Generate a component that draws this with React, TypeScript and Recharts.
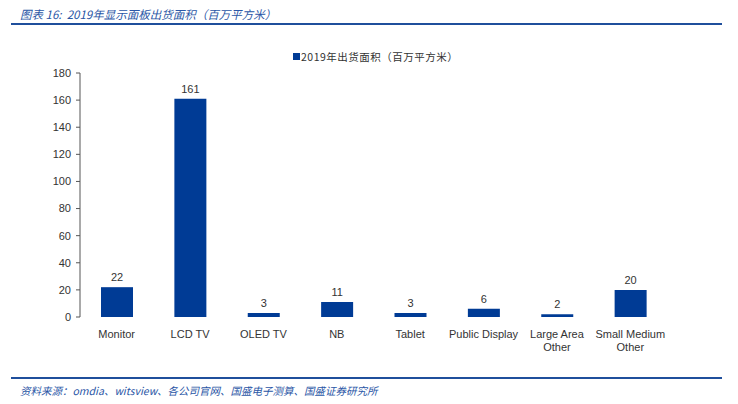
import React from 'react';
import { BarChart, Bar, XAxis, YAxis, LabelList } from 'recharts';

const categories = ['Monitor', 'LCD TV', 'OLED TV', 'NB', 'Tablet', 'Public Display', 'Large Area\nOther', 'Small Medium\nOther'];
const shipmentArea = [22, 161, 3, 11, 3, 6, 2, 20];
const yTicks = [0, 20, 40, 60, 80, 100, 120, 140, 160, 180];
const boundaryTicks = [0, 1, 2, 3, 4, 5, 6, 7, 8];
const seriesName = '2019年出货面积（百万平方米）';
const titleText = '图表 16:  2019年显示面板出货面积（百万平方米）';
const sourceText = '资料来源：omdia、witsview、各公司官网、国盛电子测算、国盛证券研究所';

const data = categories.map((c, i) => ({ name: c, idx: i + 0.5, value: shipmentArea[i] }));

const BLUE = '#003b95';
const TEXT = '#333333';
const FONT = 'Tahoma, "Liberation Sans", Arial, sans-serif';

const CategoryTick = (props: any) => {
  const { x, y, payload } = props;
  const lines = String(payload.value).split('\n');
  return (
    <text x={x} y={y} textAnchor="middle" fill={TEXT} fontSize={11} fontFamily={FONT}>
      {lines.map((l, i) => (
        <tspan key={i} x={x} dy={13}>{l}</tspan>
      ))}
    </text>
  );
};

export default function App() {
  return (
    <div style={{ position: 'absolute', left: 0, top: 0, width: 738, height: 404, background: '#fff', overflow: 'hidden' }}>
      <div style={{ position: 'absolute', left: 20, top: 6, fontSize: 11.5, fontStyle: 'italic', color: '#2a56a6', fontFamily: '"Noto Sans CJK SC", sans-serif', whiteSpace: 'pre' }}>
        {titleText}
      </div>
      <div style={{ position: 'absolute', left: 11, top: 23, width: 711, height: 2, background: '#1f4f9c' }} />
      <div style={{ position: 'absolute', left: 11, top: 377, width: 711, height: 2, background: '#1f4f9c' }} />
      <div style={{ position: 'absolute', left: 20, top: 383, fontSize: 10.5, fontStyle: 'italic', color: '#2a56a6', fontFamily: '"Noto Sans CJK SC", sans-serif', whiteSpace: 'pre' }}>
        {sourceText}
      </div>
      <div style={{ position: 'absolute', left: 293, top: 49, display: 'flex', alignItems: 'center', fontSize: 10.5, color: TEXT }}>
        <span style={{ display: 'inline-block', width: 7, height: 7, background: BLUE, marginRight: 1 }} />
        <span style={{ fontFamily: '"Noto Sans CJK SC", sans-serif', letterSpacing: 0.5 }}>{seriesName}</span>
      </div>
      <div style={{ position: 'absolute', left: 0, top: 0 }}>
        <BarChart width={738} height={404} data={data} margin={{ top: 73, right: 71, bottom: 47, left: 40 }}>
          <XAxis
            xAxisId="bounds"
            dataKey="idx"
            type="number"
            domain={[0, 8]}
            ticks={boundaryTicks}
            tick={false}
            tickSize={4}
            height={0}
            axisLine={{ stroke: '#555' }}
            tickLine={{ stroke: '#555' }}
            allowDataOverflow
          />
          <XAxis
            xAxisId="cat"
            dataKey="name"
            type="category"
            tickLine={false}
            axisLine={false}
            tick={<CategoryTick />}
            height={40}
            interval={0}
          />
          <YAxis
            domain={[0, 180]}
            ticks={yTicks}
            width={40}
            tickSize={4}
            tickMargin={5}
            tick={{ fill: TEXT, fontSize: 11, fontFamily: FONT }}
            axisLine={{ stroke: '#555' }}
            tickLine={{ stroke: '#555' }}
          />
          <Bar xAxisId="cat" dataKey="value" name={seriesName} fill={BLUE} barSize={32} isAnimationActive={false}>
            <LabelList dataKey="value" position="top" offset={6} fill={TEXT} fontSize={11} fontFamily={FONT} />
          </Bar>
        </BarChart>
      </div>
    </div>
  );
}
